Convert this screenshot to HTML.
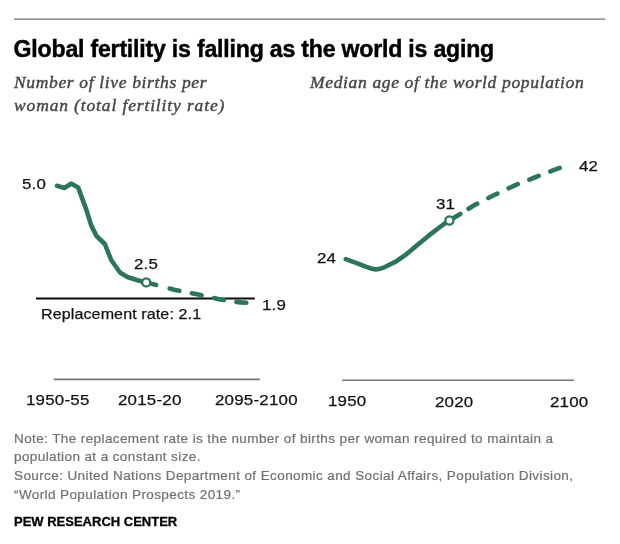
<!DOCTYPE html>
<html><head><meta charset="utf-8">
<style>
html,body{margin:0;padding:0;background:#fff;}
body{width:620px;height:544px;position:relative;overflow:hidden;font-family:"Liberation Sans",sans-serif;color:#000;}
.abs{position:absolute;white-space:nowrap;}
#title{left:13.6px;top:36px;font-size:23.1px;font-weight:bold;line-height:26px;color:#000;-webkit-text-stroke:0.45px #000;letter-spacing:-0.2px;}
.sub{font-family:"Liberation Serif",serif;font-style:italic;font-size:17.5px;line-height:24px;color:#444;-webkit-text-stroke:0.4px #444;}
.lbl{font-size:15.5px;line-height:18px;color:#111;letter-spacing:0.2px;-webkit-text-stroke:0.25px #111;transform:scaleX(1.09);transform-origin:0 50%;}
.note{font-size:13.5px;line-height:19px;color:#707070;-webkit-text-stroke:0.2px #707070;left:14px;letter-spacing:0.4px;}
#pew{left:14px;top:513px;font-size:13px;font-weight:bold;line-height:18px;-webkit-text-stroke:0.3px #000;}
svg{position:absolute;left:0;top:0;}
</style></head><body>
<div class="abs" id="title">Global fertility is falling as the world is aging</div>
<div class="abs sub" style="left:14px;top:69.5px;letter-spacing:0.65px;">Number of live births per</div>
<div class="abs sub" style="left:14px;top:92.5px;letter-spacing:0.86px;">woman (total fertility rate)</div>
<div class="abs sub" style="left:310px;top:69.5px;letter-spacing:0.65px;">Median age of the world population</div>

<svg width="620" height="544" viewBox="0 0 620 544">
  <line x1="14" y1="19.1" x2="605.2" y2="19.1" stroke="#6e6e6e" stroke-width="1.3"/>
  <!-- axes -->
  <line x1="53.7" y1="379.4" x2="259.8" y2="379.4" stroke="#747474" stroke-width="1.6"/>
  <line x1="342.1" y1="380.3" x2="574" y2="380.3" stroke="#747474" stroke-width="1.6"/>
  <!-- replacement line -->
  <line x1="36" y1="298.4" x2="254.8" y2="298.4" stroke="#0a0a0a" stroke-width="2"/>
  <!-- left curve -->
  <path d="M57,185.8 L64.4,188 L71,183.6 L78.2,187.6 L86.2,209.4 L91.3,225.6 L96.5,236 L104.8,244 L111.2,260 L120,272.5 L127.4,277 L137.6,280.3 L146.2,282.4" fill="none" stroke="#2d745e" stroke-width="4.6" stroke-linecap="round" stroke-linejoin="round"/>
  <path d="M146.2,282.4 L158,285.5 L174,289.7 L197,294.3 L219,299.2 L233,301.6 L241,302.4 L246.5,302.7" fill="none" stroke="#2d745e" stroke-width="4.6" stroke-linecap="round" stroke-linejoin="round" stroke-dasharray="10.3 13.9 10 12.7 10 12.7 10 12.7 10 12.7"/>
  <circle cx="146.2" cy="282.4" r="4.05" fill="#fff" stroke="#2d745e" stroke-width="2.3"/>
  <!-- right curve -->
  <path d="M345.8,259.2 L356,262.8 L366.4,266.9 L372,268.8 L376,269.5 L380,268.8 L385.3,266.8 L395.8,261.6 L406.3,254.3 L418.9,243.8 L429.3,235.2 L444,224 L449.4,220.6" fill="none" stroke="#2d745e" stroke-width="4.6" stroke-linecap="round" stroke-linejoin="round"/>
  <path d="M449.4,220.5 L461,213.5 L475,204.8 L494.3,195 L515,185.3 L536,177 L557,168.9 L563.5,166.6" fill="none" stroke="#2d745e" stroke-width="4.6" stroke-linecap="round" stroke-linejoin="round" stroke-dasharray="12.7 9.8 10 12.5 10 12.5 10 12.5 10 12.5 10 12.5"/>
  <circle cx="449.4" cy="220.5" r="4.05" fill="#fff" stroke="#2d745e" stroke-width="2.3"/>
</svg>

<div class="abs lbl" style="left:21.8px;top:175.4px;">5.0</div>
<div class="abs lbl" style="left:133.8px;top:255.4px;">2.5</div>
<div class="abs lbl" style="left:261.5px;top:296.4px;">1.9</div>
<div class="abs lbl" style="left:41px;top:305px;letter-spacing:0.1px;font-size:15px;transform:scaleX(1.07);">Replacement rate: 2.1</div>
<div class="abs lbl" style="left:25.8px;top:391.2px;">1950-55</div>
<div class="abs lbl" style="left:117.8px;top:391.2px;">2015-20</div>
<div class="abs lbl" style="left:214.8px;top:391.2px;">2095-2100</div>
<div class="abs lbl" style="left:316.8px;top:249.4px;">24</div>
<div class="abs lbl" style="left:435.8px;top:195.4px;">31</div>
<div class="abs lbl" style="left:578.8px;top:156.9px;">42</div>
<div class="abs lbl" style="left:327.8px;top:392.2px;">1950</div>
<div class="abs lbl" style="left:434.8px;top:393.2px;">2020</div>
<div class="abs lbl" style="left:549.8px;top:392.7px;">2100</div>

<div class="abs note" style="top:428.8px;">Note: The replacement rate is the number of births per woman required to maintain a</div>
<div class="abs note" style="top:447.4px;">population at a constant size.</div>
<div class="abs note" style="top:466px;">Source: United Nations Department of Economic and Social Affairs, Population Division,</div>
<div class="abs note" style="top:484.8px;">“World Population Prospects 2019.”</div>
<div class="abs" id="pew">PEW RESEARCH CENTER</div>
</body></html>
